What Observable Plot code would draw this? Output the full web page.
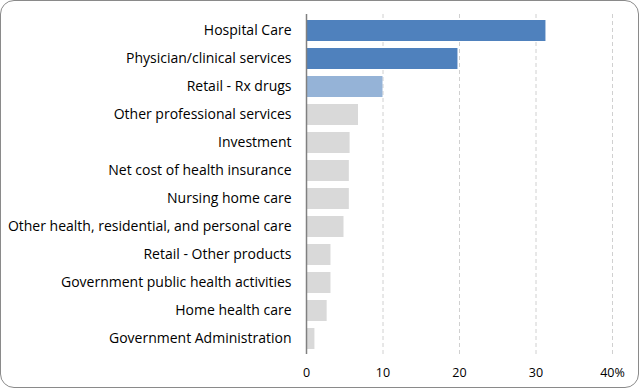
<!DOCTYPE html>
<html>
<head>
<meta charset="utf-8">
<script src="https://cdn.jsdelivr.net/npm/d3@7"></script>
<script src="https://cdn.jsdelivr.net/npm/@observablehq/plot@0.6"></script>
<style>
  html, body { margin: 0; padding: 0; background: #fff; }
  #wrap { position: relative; width: 639px; height: 388px; overflow: hidden; }
  #frame { position: absolute; left: 0; top: 0; width: 639px; height: 388px; box-sizing: border-box;
           border: 1.5px solid #8a8a8a; border-radius: 14px; pointer-events: none; }
</style>
</head>
<body>
<div id="wrap"><div id="frame"></div></div>
<script>
const categories = [
  "Hospital Care",
  "Physician/clinical services",
  "Retail - Rx drugs",
  "Other professional services",
  "Investment",
  "Net cost of health insurance",
  "Nursing home care",
  "Other health, residential, and personal care",
  "Retail - Other products",
  "Government public health activities",
  "Home health care",
  "Government Administration"
];
const shares = [31.3, 19.8, 10.0, 6.8, 5.7, 5.6, 5.6, 4.9, 3.2, 3.2, 2.7, 1.1];
const groups = ["top", "top", "mid", "rest", "rest", "rest", "rest", "rest", "rest", "rest", "rest", "rest"];
const tickValues = [0, 10, 20, 30, 40];
const tickLabels = ["0", "10", "20", "30", "40%"];

const data = categories.map((c, i) => ({category: c, value: shares[i], group: groups[i]}));

const chart = Plot.plot({
  width: 639,
  height: 388,
  marginLeft: 306,
  marginRight: 27,
  marginTop: 14,
  marginBottom: 34,
  style: {fontFamily: "'Open Sans', sans-serif", fontSize: "14px", color: "#000", background: "transparent"},
  x: {domain: [0, 40], ticks: tickValues, label: null},
  y: {domain: categories, paddingInner: 0.25, paddingOuter: 0.125, label: null},
  color: {domain: ["top", "mid", "rest"], range: ["#4F81BD", "#95B3D7", "#D9D9D9"]},
  marks: [
    Plot.ruleX(tickValues.filter(d => d > 0), {stroke: "#d0d0d0", strokeDasharray: "4,3", strokeWidth: 1, strokeOpacity: 1}),
    Plot.barX(data, {x: "value", y: "category", fill: "group"}),
    Plot.ruleX([0], {stroke: "#808080", strokeWidth: 1.5}),
    Plot.axisX({ticks: tickValues, tickSize: 0, tickPadding: 14, tickFormat: (d) => tickLabels[tickValues.indexOf(d)], fontSize: 12.5, fill: "#000"}),
    Plot.axisY({tickSize: 0, tickPadding: 15, fontSize: 14, fill: "#000"})
  ]
});
document.getElementById("wrap").prepend(chart);
</script>
</body>
</html>
